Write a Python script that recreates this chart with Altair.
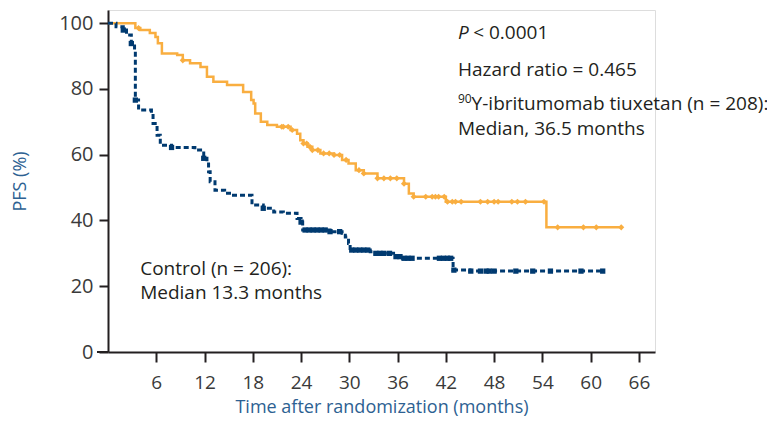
import altair as alt
import pandas as pd

# ---- data ----
treat_t = [0, 3.4, 4.0, 5.2, 5.9, 6.2, 6.7, 8.6, 9.3, 10.2, 11.5, 12.3, 13.1, 14.8, 16.8, 17.8,
           18.1, 18.3, 19.0, 19.8, 21.0, 22.7, 23.5, 23.9, 24.3, 24.8, 25.4, 26.4, 28.1, 29.1,
           29.9, 30.8, 31.8, 33.5, 36.8, 37.4, 38.0, 42.0, 54.5, 63.8]
treat_s = [100, 98.5, 97.9, 97.0, 95.8, 93.9, 90.8, 90.3, 88.7, 87.8, 86.7, 83.7, 82.2, 81.2, 79.1, 76.6,
           75.6, 72.5, 70.0, 69.0, 68.5, 67.5, 66.4, 64.4, 63.4, 62.4, 61.4, 60.4, 59.9, 58.4,
           57.3, 55.3, 54.3, 52.8, 51.2, 48.2, 47.2, 45.7, 37.9, 37.9]
treat_cens = [3.8, 9.3, 21.6, 21.8, 22.4, 22.9, 24.3, 24.7, 25.1, 25.4, 26.1, 26.8, 27.5, 28.1, 28.8,
              29.6, 31.2, 31.8, 33.5, 34.3, 35.1, 35.9, 36.8, 38.0, 39.5, 40.3, 40.7, 41.1, 41.8,
              42.2, 42.8, 43.2, 43.9, 46.3, 47.2, 48.0, 48.5, 50.2, 50.9, 51.9, 54.2, 55.9, 59.1,
              60.7, 63.8]

ctrl_t = [0, 1.0, 1.9, 2.3, 2.9, 3.3, 3.4, 3.8, 5.4, 5.6, 6.1, 6.5, 7.9, 10.8, 11.9, 12.3, 12.5,
          12.7, 13.3, 14.5, 15.6, 17.9, 19.3, 20.6, 21.8, 23.5, 24.0, 24.2, 27.6, 29.1, 29.5, 29.9,
          30.1, 32.6, 33.0, 35.5, 36.6, 42.9, 45.0, 61.5]
ctrl_s = [100, 98.9, 97.9, 96.4, 93.8, 91.8, 76.6, 73.6, 72.5, 69.5, 65.9, 62.9, 62.2, 61.4, 58.9, 57.8, 54.8,
          51.8, 49.2, 48.3, 47.7, 44.7, 43.7, 42.6, 42.2, 40.6, 39.5, 37.1, 36.6, 36.1, 35.0, 33.0,
          31.0, 30.5, 30.0, 29.0, 28.5, 24.9, 24.6, 24.6]
ctrl_cens = [1.9, 2.9, 3.4, 7.9, 11.9, 19.3, 24.0, 24.5, 25.0, 25.5, 26.0, 26.5, 27.0, 27.6, 28.8,
             30.3, 30.8, 31.3, 31.8, 32.3, 33.3, 33.8, 34.3, 35.0, 35.8, 36.3, 36.8, 37.3, 37.8,
             41.2, 41.7, 42.2, 42.6, 43.0, 45.1, 46.3, 47.0, 47.4, 48.0, 50.7, 52.8, 55.0, 58.8, 61.5]

x_ticks = [6, 12, 18, 24, 30, 36, 42, 48, 54, 60, 66]
y_ticks = [0, 20, 40, 60, 80, 100]

ORANGE = "#f9ae40"
NAVY = "#003a70"
TXT = "#231f20"
BLUE = "#2d6192"
FONT = "Open Sans"


def step_at(ts, ss, t):
    v = ss[0]
    for a, b in zip(ts, ss):
        if a <= t:
            v = b
    return v


treat_df = pd.DataFrame({"t": treat_t, "s": treat_s})
ctrl_df = pd.DataFrame({"t": ctrl_t, "s": ctrl_s})
treat_c = pd.DataFrame({"t": treat_cens, "s": [step_at(treat_t, treat_s, t) for t in treat_cens]})
ctrl_c = pd.DataFrame({"t": ctrl_cens, "s": [step_at(ctrl_t, ctrl_s, t) for t in ctrl_cens]})

xs = alt.Scale(domain=[0, 68], nice=False)
ys = alt.Scale(domain=[0, 104], nice=False)

xax = alt.Axis(values=x_ticks, title="Time after randomization (months)", grid=False,
               domainColor=TXT, domainWidth=2, tickColor=TXT, tickWidth=2, tickSize=10,
               labelFont=FONT, labelFontSize=19, labelColor="#3a3a3a", labelPadding=11,
               titleFont=FONT, titleFontSize=18, titleFontWeight="normal", titleColor=BLUE,
               titlePadding=6)
yax = alt.Axis(values=y_ticks, title="PFS (%)", grid=False,
               domainColor=TXT, domainWidth=2, tickColor=TXT, tickWidth=2, tickSize=9,
               labelFont=FONT, labelFontSize=20, labelColor="#3a3a3a", labelPadding=6,
               titleFont=FONT, titleFontSize=18, titleFontWeight="normal", titleColor=BLUE,
               titlePadding=29)

base_x = alt.X("t:Q", scale=xs, axis=xax)
base_y = alt.Y("s:Q", scale=ys, axis=yax)

treat_line = alt.Chart(treat_df).mark_line(interpolate="step-after", color=ORANGE, strokeWidth=2.5).encode(
    x=base_x, y=base_y)
ctrl_line = alt.Chart(ctrl_df).mark_line(interpolate="step-after", color=NAVY, strokeWidth=3,
                                         strokeDash=[5, 3]).encode(x="t:Q", y="s:Q")
treat_pts = alt.Chart(treat_c).mark_point(shape="diamond", filled=True, color=ORANGE, size=38, opacity=1).encode(
    x="t:Q", y="s:Q")
ctrl_pts = alt.Chart(ctrl_c).mark_point(shape="square", filled=True, color=NAVY, size=28, opacity=1).encode(
    x="t:Q", y="s:Q")

# annotations (data coordinates)
ann = pd.DataFrame({
    "t": [45.4, 43.5, 45.2, 43.5, 4.0, 4.0],
    "s": [97.0, 85.7, 75.4, 67.8, 25.2, 17.9],
    "label": ["< 0.0001", "Hazard ratio = 0.465", "Y-ibritumomab tiuxetan (n = 208):",
              "Median, 36.5 months", "Control (n = 206):", "Median 13.3 months"],
})
ann_txt = alt.Chart(ann).mark_text(align="left", baseline="middle", font=FONT, fontSize=19,
                                   color=TXT).encode(x="t:Q", y="s:Q", text="label:N")
p_df = pd.DataFrame({"t": [43.5], "s": [97.0], "label": ["P"]})
p_txt = alt.Chart(p_df).mark_text(align="left", baseline="middle", font=FONT, fontSize=19,
                                  fontStyle="italic", color=TXT).encode(x="t:Q", y="s:Q", text="label:N")
sup_df = pd.DataFrame({"t": [43.5], "s": [75.4], "label": ["90"]})
sup_txt = alt.Chart(sup_df).mark_text(align="left", baseline="middle", font=FONT, fontSize=12,
                                      dy=-5, color=TXT).encode(x="t:Q", y="s:Q", text="label:N")

ext = alt.Chart(pd.DataFrame({"a": [0]})).mark_rule(color=TXT, strokeWidth=2).encode(
    x=alt.value(-11), x2=alt.value(0), y=alt.value(342))

chart = alt.layer(treat_line, ctrl_line, treat_pts, ctrl_pts, ann_txt, p_txt, sup_txt, ext).properties(
    width=547, height=342,
    autosize=alt.AutoSizeParams(type="none"),
    padding={"left": 100, "top": 2, "right": 112, "bottom": 65},
).configure_view(stroke=None).configure(background="white")

chart.save("out.html", embed_options={"renderer": "svg", "actions": False})
